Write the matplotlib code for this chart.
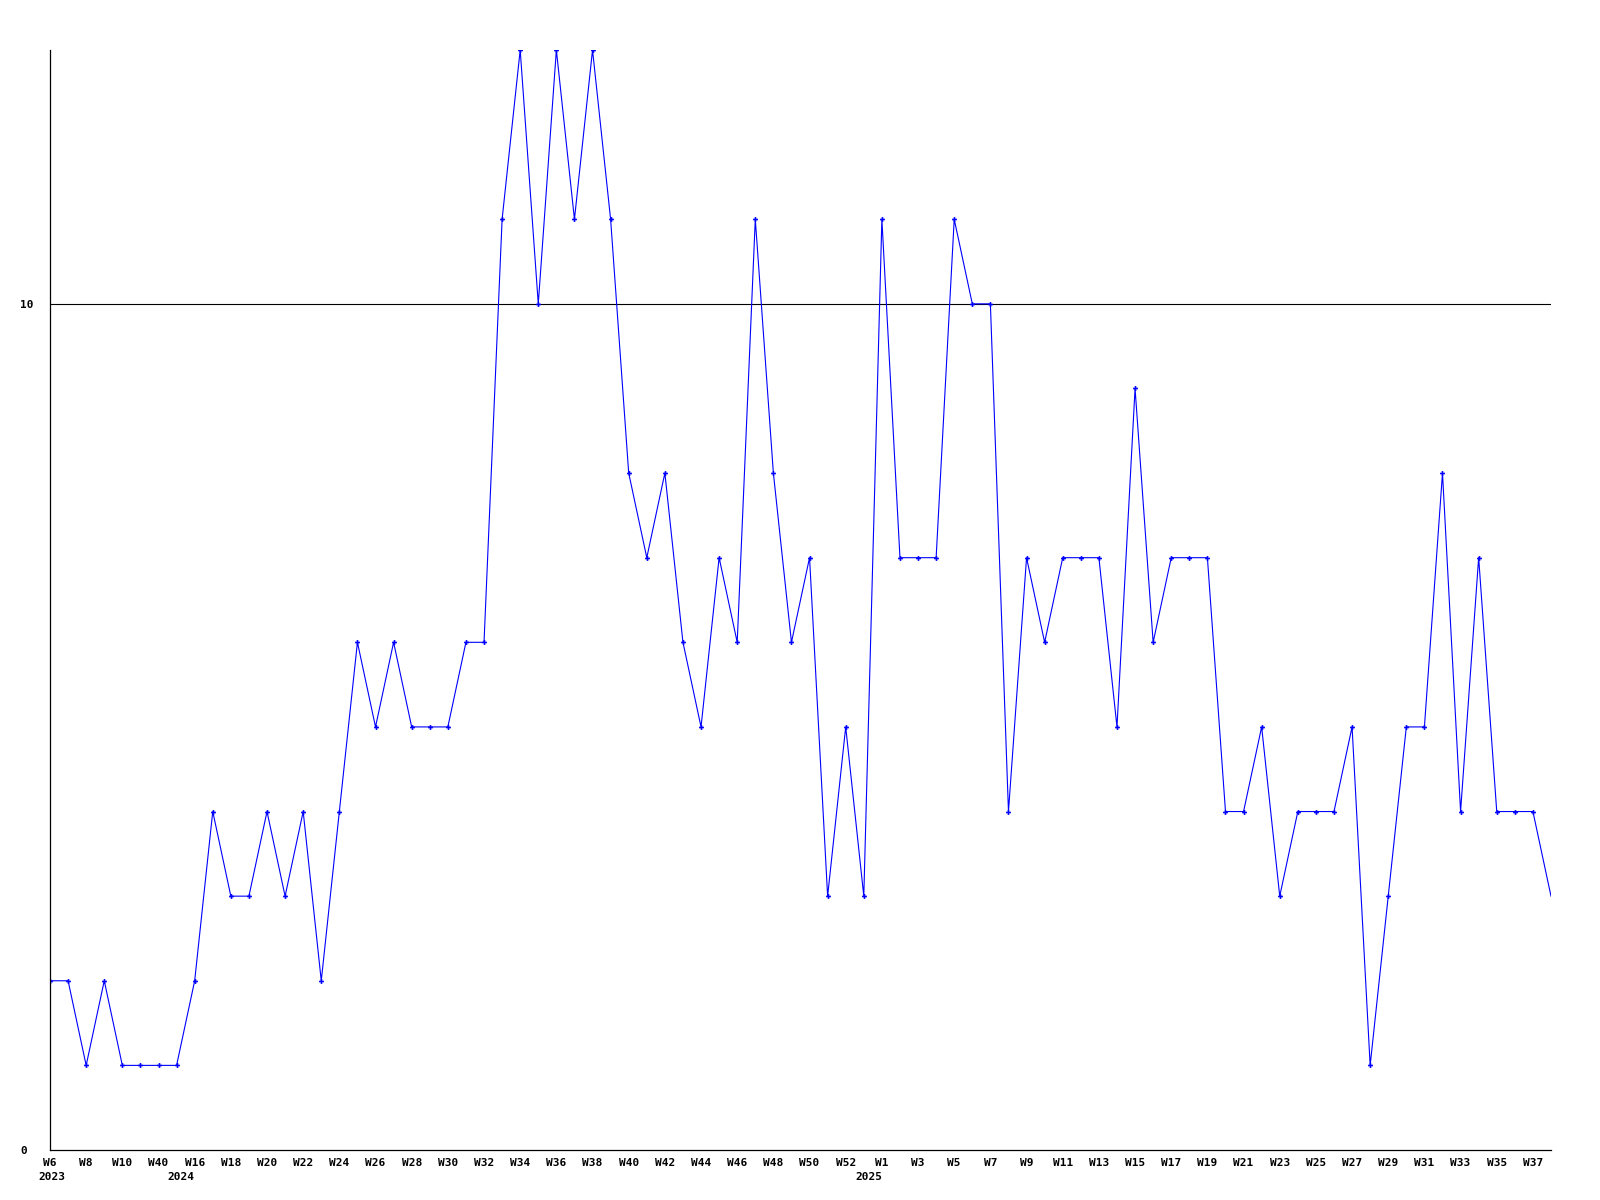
import matplotlib
matplotlib.use("Agg")
import matplotlib.pyplot as plt

# weekly counts, one value per week
values = [2, 2, 1, 2, 1, 1, 1, 1, 2, 4,
          3, 3, 4, 3, 4, 2, 4, 6, 5, 6,
          5, 5, 5, 6, 6, 11, 13, 10, 13, 11,
          13, 11, 8, 7, 8, 6, 5, 7, 6, 11,
          8, 6, 7, 3, 5, 3, 11, 7, 7, 7,
          11, 10, 10, 4, 7, 6, 7, 7, 7, 5,
          9, 6, 7, 7, 7, 4, 4, 5, 3, 4,
          4, 4, 5, 1, 3, 5, 5, 8, 4, 7,
          4, 4, 4, 3]

# labels shown on every second week
week_labels = ["W6", "W8", "W10", "W40", "W16", "W18", "W20", "W22", "W24",
               "W26", "W28", "W30", "W32", "W34", "W36", "W38", "W40", "W42",
               "W44", "W46", "W48", "W50", "W52", "W1", "W3", "W5", "W7",
               "W9", "W11", "W13", "W15", "W17", "W19", "W21", "W23", "W25",
               "W27", "W29", "W31", "W33", "W35", "W37"]
# year shown under these week labels (index into week_labels)
year_pos = [0, 4, 23]
years = ["2023", "2024", "2025"]

xs = list(range(len(values)))

fig = plt.figure(figsize=(16, 12), dpi=100)
ax = fig.add_axes([50 / 1600, 50 / 1200, 1501 / 1600, 1100 / 1200])

ax.plot(xs, values, color="#0000ff", linewidth=0.8,
        marker="P", markersize=3.5, markeredgewidth=0,
        markevery=slice(0, len(values) - 1))
ax.axhline(10, color="black", linewidth=0.8, zorder=0)

ax.set_xlim(0, len(values) - 1)
ax.set_ylim(0, 13)

for s in ("top", "right"):
    ax.spines[s].set_visible(False)
for s in ("left", "bottom"):
    ax.spines[s].set_color("black")
    ax.spines[s].set_linewidth(0.9)

tick_font = dict(family="DejaVu Sans Mono", weight="bold", size=8)

ticks = xs[::2][:len(week_labels)]
ax.set_xticks(ticks)
ax.set_xticklabels(week_labels, **tick_font)
ax.set_yticks([0, 10])
ax.set_yticklabels(["0", "10"], **tick_font, ha="left")
ax.tick_params(axis="both", length=0)
ax.tick_params(axis="x", pad=5.5)
ax.tick_params(axis="y", pad=21.6)

# year labels, right-aligned under their week (first one kept inside the figure)
for k, (p, yr) in enumerate(zip(year_pos, years)):
    if k == 0:
        ax.annotate(yr, xy=(ticks[p], 0), xycoords=("data", "axes fraction"),
                    xytext=(-12, -27), textcoords="offset pixels",
                    ha="left", va="center", **tick_font)
    else:
        ax.annotate(yr, xy=(ticks[p], 0), xycoords=("data", "axes fraction"),
                    xytext=(0, -27), textcoords="offset pixels",
                    ha="right", va="center", **tick_font)

fig.savefig("out.png", dpi=100)
